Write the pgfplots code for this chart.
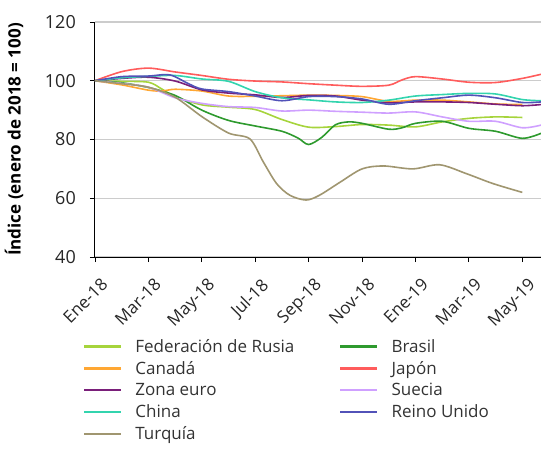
\documentclass[border=0pt]{standalone}
\usepackage{pgfplots}
\pgfplotsset{compat=1.18}
\usepackage{fontspec}
\setmainfont{Open Sans}
\definecolor{cRus}{HTML}{A6D43C}
\definecolor{cCan}{HTML}{FFA733}
\definecolor{cEur}{HTML}{7A1F7A}
\definecolor{cChi}{HTML}{33D4AE}
\definecolor{cTur}{HTML}{A09670}
\definecolor{cBra}{HTML}{2E9A2E}
\definecolor{cJap}{HTML}{FF5C5C}
\definecolor{cSue}{HTML}{CFA0FF}
\definecolor{cRei}{HTML}{5252B8}
\definecolor{tickc}{HTML}{262626}
\definecolor{legc}{HTML}{333333}
\begin{document}
\begin{tikzpicture}
\path[use as bounding box] (-95pt,-191pt) rectangle (446pt,257pt);
\begin{axis}[
  at={(0pt,0pt)}, anchor=south west,
  width=446pt, height=235pt, scale only axis,
  xmin=0, xmax=16.7, ymin=40, ymax=120,
  axis lines=left, axis line style={-, line width=1pt, black},
  ytick={40,60,80,100,120},
  xtick={0,2,4,6,8,10,12,14,16},
  xticklabels={Ene-18,Mar-18,May-18,Jul-18,Sep-18,Nov-18,Ene-19,Mar-19,May-19},
  ymajorgrids, grid style={gray!40, line width=1.4pt},
  tick align=outside, major tick length=5pt,
  tick style={black, line width=0.9pt},
  font=\fontsize{17}{20}\selectfont,
  ticklabel style={text=tickc, font=\fontsize{18}{20}\selectfont},
  /pgf/number format/assume math mode=true,
  xticklabel style={xshift=5pt, yshift=-15pt, rotate=45, anchor=north east, inner sep=0pt, font=\fontsize{17}{20}\selectfont},
  yticklabel style={inner sep=2pt, xshift=-12pt},
  ylabel={\bfseries Índice (enero de 2018 = 100)},
  every axis y label/.style={at={([xshift=-81pt]axis description cs:0,0.5)}, rotate=90, anchor=center, font=\fontsize{17}{20}\selectfont},
  legend columns=2,
  legend cell align=left,
  legend style={at={(0,0)}, anchor=north west, xshift=-12pt, yshift=-80pt,
    draw=none, fill=none, text=legc, font=\fontsize{17}{20}\selectfont, row sep=3.5pt, inner sep=0pt,
    nodes={inner xsep=0pt}},
  legend image code/.code={\draw[#1, line width=2.2pt] (0pt,0pt) -- (37pt,0pt);},
  every axis plot/.append style={line width=1.6pt, smooth, no markers},
]
\addplot[cRus] coordinates {(0,100)(1,99.8)(2,99.5)(2.5,97.2)(3,94.6)(4,91.8)(5,91)(6,90.2)(7,86.8)(8,84.2)(9,84.4)(10,85.1)(11,84.9)(12,84.3)(13,86)(14,87.2)(15,87.7)(16,87.5)};
\addlegendentry{\hspace*{13pt}\makebox[204pt][l]{Federación de Rusia}}
\addplot[cBra] coordinates {(0,100)(1,99.3)(2,97.7)(3,95)(4,90)(5,86.5)(6,84.6)(7,82.8)(7.6,80.5)(8,78.3)(8.5,80.8)(9,85)(9.5,86)(10,85.5)(11,83.5)(11.5,84)(12,85.5)(13,86.2)(14,83.8)(15,82.8)(16,80.4)(16.7,82.1)};
\addlegendentry{\hspace*{13pt}Brasil}
\addplot[cCan] coordinates {(0,100)(1,98.6)(2,96.8)(2.5,96.5)(3,97.1)(4,96.5)(5,94.8)(6,94.7)(7,94.9)(8,95.1)(9,95)(10,94.6)(11,93)(12,93.4)(13,93.4)(14,92.8)(15,92.1)(16,91.9)};
\addlegendentry{\hspace*{13pt}\makebox[204pt][l]{Canadá}}
\addplot[cJap] coordinates {(0,100)(1,103.1)(2,104.3)(3,103)(4,101.8)(5,100.5)(6,99.9)(7,99.6)(8,99)(9,98.5)(10,98.1)(11,98.5)(11.5,100.3)(12,101.4)(13,100.6)(14,99.5)(15,99.4)(16,100.8)(16.7,102.2)};
\addlegendentry{\hspace*{13pt}Japón}
\addplot[cEur] coordinates {(0,100)(1,100.8)(2,101.2)(3,99.9)(4,96.9)(5,95.8)(6,95.2)(7,94.3)(8,95)(9,94.8)(10,93.4)(11,92.5)(12,92.8)(13,92.8)(14,92.6)(15,92)(16,91.5)(16.7,91.9)};
\addlegendentry{\hspace*{13pt}\makebox[204pt][l]{Zona euro}}
\addplot[cSue] coordinates {(0,100)(1,99.1)(2,97.8)(3,94.2)(4,92.3)(5,91.2)(6,90.9)(7,89.7)(8,90)(9,89.6)(10,89.3)(11,89)(12,89.4)(13,87.7)(14,86.2)(15,86.2)(16,84)(16.7,84.9)};
\addlegendentry{\hspace*{13pt}Suecia}
\addplot[cChi] coordinates {(0,100)(1,101)(2,101.5)(3,101.8)(4,100.6)(5,99.8)(6,96.3)(7,94.2)(8,93.5)(9,92.8)(10,92.6)(11,93.4)(12,94.8)(13,95.3)(14,95.7)(15,95.5)(16,93.6)(16.7,93.2)};
\addlegendentry{\hspace*{13pt}\makebox[204pt][l]{China}}
\addplot[cRei] coordinates {(0,100)(1,101.4)(2,101.6)(2.8,102)(3.5,99)(4,97.2)(5,96.3)(6,94.8)(7,93.2)(8,94.6)(9,94.6)(10,93.8)(11,92)(12,93.2)(13,94.2)(14,95.1)(15,94.2)(16,92.6)(16.7,92.8)};
\addlegendentry{\hspace*{13pt}Reino Unido}
\addplot[cTur] coordinates {(0,100)(1,99)(2,97.8)(3,94.4)(4,87.8)(5,82.2)(5.8,80.2)(6.3,72.4)(6.8,65)(7.3,61)(7.9,59.4)(8.4,61)(9.2,65.6)(10,70)(10.8,71)(11.9,70)(12.9,71.4)(13.9,68.4)(14.9,65)(16,62)};
\addlegendentry{\hspace*{13pt}\makebox[204pt][l]{Turquía}}
\end{axis}
\end{tikzpicture}
\end{document}
